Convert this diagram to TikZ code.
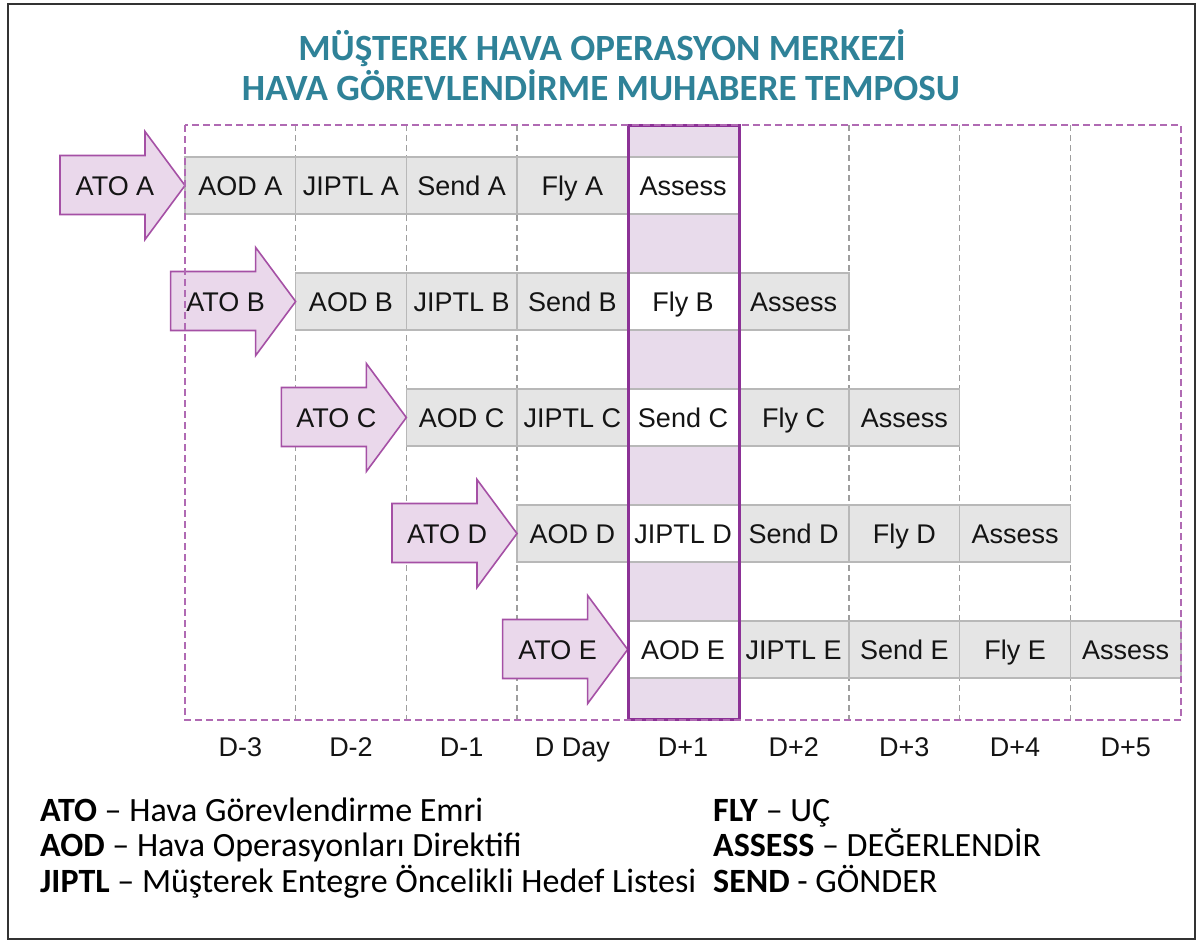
\documentclass[tikz,border=0pt]{standalone}
\usepackage{fontspec}
\setmainfont{Liberation Sans}
\newfontfamily\calibri{Carlito}
\definecolor{titleteal}{RGB}{47,130,152}
\definecolor{cellgray}{RGB}{229,229,229}
\definecolor{cellline}{RGB}{184,184,184}
\definecolor{arrowfill}{RGB}{234,216,235}
\definecolor{arrowline}{RGB}{165,80,165}
\definecolor{colfill}{RGB}{232,219,235}
\definecolor{colline}{RGB}{140,50,150}
\definecolor{boxline}{RGB}{176,106,179}
\definecolor{vline}{RGB}{158,158,158}
\definecolor{txt}{RGB}{20,20,20}
\begin{document}
\begin{tikzpicture}[x=1pt,y=-1pt,
  cell/.style={rectangle, minimum width=110.67pt, minimum height=57pt, inner sep=0pt,
    draw=cellline, line width=1.5pt, text=txt, text height=19.3pt, text depth=0pt,
    font=\fontsize{27}{31}\selectfont},
  vdash/.style={draw=vline, line width=1.3pt, dash pattern=on 6pt off 4pt},
  atoarrow/.style={fill=arrowfill, draw=arrowline, line width=1.6pt, line join=miter},
  atolabel/.style={inner sep=0pt, text=txt, text height=19.3pt, text depth=0pt,
    font=\fontsize{27}{31}\selectfont},
  daylabel/.style={inner sep=0pt, text=txt, text height=19.3pt, text depth=0pt,
    font=\fontsize{27}{31}\selectfont},
  titletext/.style={inner sep=0pt, anchor=base, text=titleteal,
    font=\calibri\bfseries\fontsize{37}{42}\selectfont},
  legend/.style={inner sep=0pt, anchor=base west, text=black,
    font=\calibri\fontsize{34}{38}\selectfont}]
\useasboundingbox (0,0) rectangle (1202,943);
\draw[line width=2.5pt, draw=black!80] (8,4) rectangle (1195,939);
% title
\node[titletext] (t1) at (602,60) {MÜŞTEREK HAVA OPERASYON MERKEZİ};
\node[titletext] (t2) at (601,100) {HAVA GÖREVLENDİRME MUHABERE TEMPOSU};
% vertical dashed separators
\foreach \i in {1,...,8} {
  \draw[vdash] ({185+\i*110.67},125) -- ({185+\i*110.67},720);
}
% highlighted column background
\fill[colfill] (628,125) rectangle (739,719);
% cells
\foreach \r/\L in {0/A,1/B,2/C,3/D,4/E} {
  \foreach \k/\t in {0/AOD,1/JIPTL,2/Send,3/Fly,4/Assess} {
    \pgfmathtruncatemacro\cc{\r+\k}
    \ifnum\cc=4 \def\cf{white}\else\def\cf{cellgray}\fi
    \ifnum\k=4
      \node[cell, fill=\cf] (c\r\k) at ({240.33+110.67*\cc},{185.5+116*\r}) {\t};
    \else
      \node[cell, fill=\cf] (c\r\k) at ({240.33+110.67*\cc},{185.5+116*\r}) {\t\ \L};
    \fi
  }
}
% ATO arrows
\foreach \r/\L in {0/A,1/B,2/C,3/D,4/E} {
  \pgfmathsetmacro\tx{185+110.67*\r}
  \pgfmathsetmacro\cy{185.5+116*\r}
  \draw[atoarrow] (\tx-125,\cy-30) -- (\tx-40,\cy-30) -- (\tx-40,\cy-54) -- (\tx,\cy)
     -- (\tx-40,\cy+54) -- (\tx-40,\cy+29) -- (\tx-125,\cy+29) -- cycle;
  \node[atolabel] (ato\L) at (\tx-70,\cy) {ATO \L};
}
% highlighted column border
\draw[draw=colline, line width=3pt] (628,125) rectangle (739,719);
% outer dashed frame
\draw[draw=boxline, line width=1.8pt, dash pattern=on 7pt off 4pt] (185,125) rectangle (1181,720);
% day labels
\foreach \c/\d in {0/D-3,1/D-2,2/D-1,3/D Day,4/D+1,5/D+2,6/D+3,7/D+4,8/D+5} {
  \node[daylabel] (day\c) at ({240.33+110.67*\c},747) {\d};
}
% legend
\node[legend] (l1) at (40,821) {\textbf{ATO} – Hava Görevlendirme Emri};
\node[legend] (l2) at (40,856) {\textbf{AOD} – Hava Operasyonları Direktifi};
\node[legend] (l3) at (40,892) {\textbf{JIPTL} – Müşterek Entegre Öncelikli Hedef Listesi};
\node[legend] (r1) at (713,821) {\textbf{FLY} – UÇ};
\node[legend] (r2) at (713,856) {\textbf{ASSESS} – DEĞERLENDİR};
\node[legend] (r3) at (713,892) {\textbf{SEND} - GÖNDER};
\end{tikzpicture}
\end{document}
